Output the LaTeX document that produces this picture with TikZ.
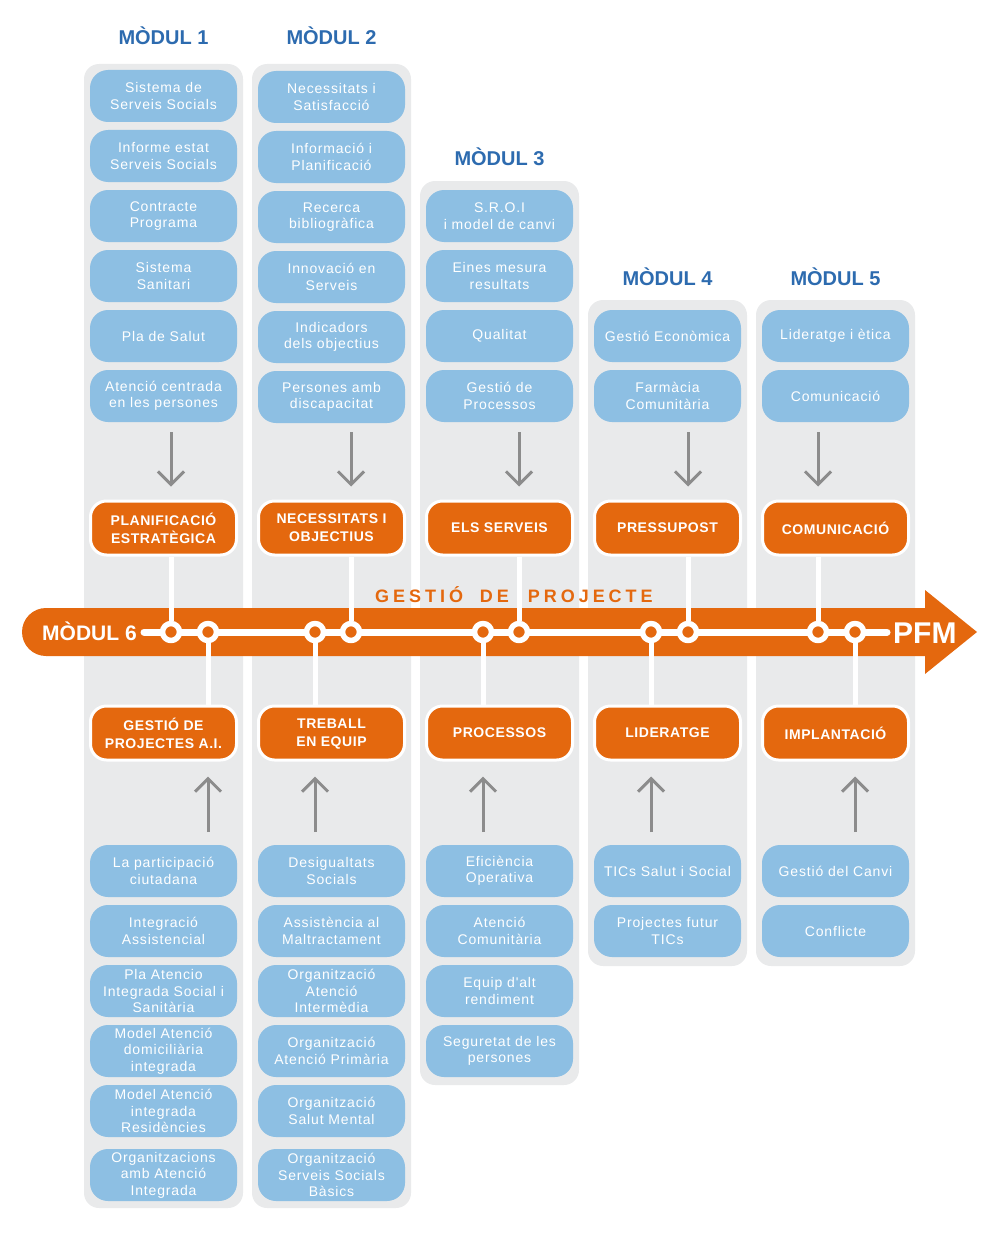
\documentclass[tikz,border=0pt]{standalone}
\usepackage{fontspec}
\setmainfont{Liberation Sans}
\newfontfamily\temafont[LetterSpace=6]{Liberation Sans}
\newfontfamily\fitafont[LetterSpace=4]{Liberation Sans}
\newfontfamily\gestiofont[LetterSpace=22]{Liberation Sans}
\usetikzlibrary{arrows.meta,positioning}
\definecolor{taronja}{RGB}{228,104,14}
\definecolor{blau}{RGB}{141,191,227}
\definecolor{blaufosc}{RGB}{45,107,175}
\definecolor{panell}{RGB}{233,234,235}
\definecolor{fletxa}{RGB}{140,140,140}
\begin{document}
\begin{tikzpicture}[x=1pt,y=-1pt,line join=round,
  tema/.style={fill=blau,text=white,rounded corners=18pt,minimum width=147pt,minimum height=52pt,inner sep=0pt,align=center,font=\temafont\fontsize{14}{16.5}\selectfont},
  fita/.style={fill=taronja,draw=white,line width=3pt,text=white,rounded corners=16pt,minimum width=146pt,minimum height=54pt,inner sep=0pt,align=center,font=\fitafont\bfseries\fontsize{14}{18}\selectfont},
  modul/.style={text=blaufosc,anchor=base,inner sep=0pt,font=\bfseries\fontsize{20}{24}\selectfont},
  punt/.style={circle,fill=taronja,draw=white,line width=5.5pt,minimum size=17pt,inner sep=0pt},
  linia/.style={white,line width=5pt},
  baixa/.style={fletxa,line width=3pt,-{Straight Barb[length=13pt,width=26pt,line width=3pt]}}]
\useasboundingbox (0,0) rectangle (1000,1236);
% panells
\foreach \i/\ya/\yb in {1/64/1208,2/64/1208,3/181/1085,4/300/966,5/300/966}
  \fill[panell,rounded corners=15pt] ({84+168*(\i-1)},\ya) rectangle ++(159,{\yb-\ya});
\foreach \i/\y in {1/45,2/45,3/165,4/285,5/285}
  \node[modul] (h\i) at ({163.5+168*(\i-1)},\y) {MÒDUL \i};
% temes de dalt
\foreach \t [count=\k] in {{Sistema de\\Serveis Socials},{Informe estat\\Serveis Socials},{Contracte\\Programa},{Sistema\\Sanitari},{Pla de Salut},{Atenció centrada\\en les persones}}
  \node[tema] (m1a\k) at (163.5,{36+60*\k}) {\t};
\foreach \t [count=\k] in {{Necessitats i\\Satisfacció},{Informació i\\Planificació},{Recerca\\bibliogràfica},{Innovació en\\Serveis},{Indicadors\\dels objectius},{Persones amb\\discapacitat}}
  \node[tema] (m2a\k) at (331.5,{37+60*\k}) {\t};
\foreach \t [count=\k] in {{S.R.O.I\\i model de canvi},{Eines mesura\\resultats},{Qualitat},{Gestió de\\Processos}}
  \node[tema] (m3a\k) at (499.5,{156+60*\k}) {\t};
\foreach \t [count=\k] in {{Gestió Econòmica},{Farmàcia\\Comunitària}}
  \node[tema] (m4a\k) at (667.5,{276+60*\k}) {\t};
\foreach \t [count=\k] in {{Lideratge i ètica},{Comunicació}}
  \node[tema] (m5a\k) at (835.5,{276+60*\k}) {\t};
% temes de baix
\foreach \t [count=\k] in {{La participació\\ciutadana},{Integració\\Assistencial},{Pla Atencio\\Integrada Social i\\Sanitària},{Model Atenció\\domiciliària\\integrada},{Model Atenció\\integrada\\Residències},{Organitzacions\\amb Atenció\\Integrada}}
  \node[tema] (m1b\k) at (163.5,{811+60*\k+4*(\k>5)}) {\t};
\foreach \t [count=\k] in {{Desigualtats\\Socials},{Assistència al\\Maltractament},{Organització\\Atenció\\Intermèdia},{Organització\\Atenció Primària},{Organització\\Salut Mental},{Organització\\Serveis Socials\\Bàsics}}
  \node[tema] (m2b\k) at (331.5,{811+60*\k+4*(\k>5)}) {\t};
\foreach \t [count=\k] in {{Eficiència\\Operativa},{Atenció\\Comunitària},{Equip d'alt\\rendiment},{Seguretat de les\\persones}}
  \node[tema] (m3b\k) at (499.5,{811+60*\k}) {\t};
\foreach \t [count=\k] in {{TICs Salut i Social},{Projectes futur\\TICs}}
  \node[tema] (m4b\k) at (667.5,{811+60*\k}) {\t};
\foreach \t [count=\k] in {{Gestió del Canvi},{Conflicte}}
  \node[tema] (m5b\k) at (835.5,{811+60*\k}) {\t};
% fletxa gran
\fill[taronja] (46,608) -- (925,608) -- (925,590) -- (977,632) -- (925,674) -- (925,656) -- (46,656) -- cycle;
\fill[taronja] (46,632) circle[radius=24pt];
\node[text=white,anchor=base west,inner sep=0pt,font=\bfseries\fontsize{21}{24}\selectfont] (m6) at (42,640) {MÒDUL 6};
\node[text=white,anchor=base west,inner sep=0pt,font=\bfseries\fontsize{30}{32}\selectfont] (pfm) at (893,643) {PFM};
\node[text=taronja,anchor=base west,inner sep=0pt,font=\gestiofont\bfseries\fontsize{18}{20}\selectfont] (gp) at (375,602) {GESTIÓ\hspace{8pt} DE\hspace{10pt} PROJECTE};
\coordinate (ini) at (144,632);
\coordinate (fi) at (887,632);
\draw[white,line width=7pt,line cap=round] (ini) -- (fi);
% fites
\foreach \t [count=\i] in {{PLANIFICACIÓ\\ESTRATÈGICA},{NECESSITATS I\\OBJECTIUS},{ELS SERVEIS},{PRESSUPOST},{COMUNICACIÓ}}
  \node[fita] (p\i) at ({163.5+168*(\i-1)},528) {\t};
\foreach \t [count=\i] in {{GESTIÓ DE\\PROJECTES A.I.},{\strut TREBALL\\EN EQUIP},{PROCESSOS},{LIDERATGE},{IMPLANTACIÓ}}
  \node[fita] (q\i) at ({163.5+168*(\i-1)},733) {\t};
\foreach \x [count=\i] in {171,351,519,688,818}
  \node[punt] (c\i) at (\x,632) {};
\foreach \x [count=\i] in {208,315,483,651,855}
  \node[punt] (d\i) at (\x,632) {};
\foreach \i in {1,...,5}{
  \draw[linia] (p\i.south -| c\i) -- (c\i);
  \draw[linia] (q\i.north -| d\i) -- (d\i);
  \coordinate (f\i) at (c\i |- 0,432);
  \coordinate (g\i) at (d\i |- 0,832);
  \draw[baixa] (f\i) -- ([yshift=13pt]f\i |- p\i.north);
  \draw[baixa] (g\i) -- ([yshift=-15pt]g\i |- q\i.south);
}
\end{tikzpicture}
\end{document}
